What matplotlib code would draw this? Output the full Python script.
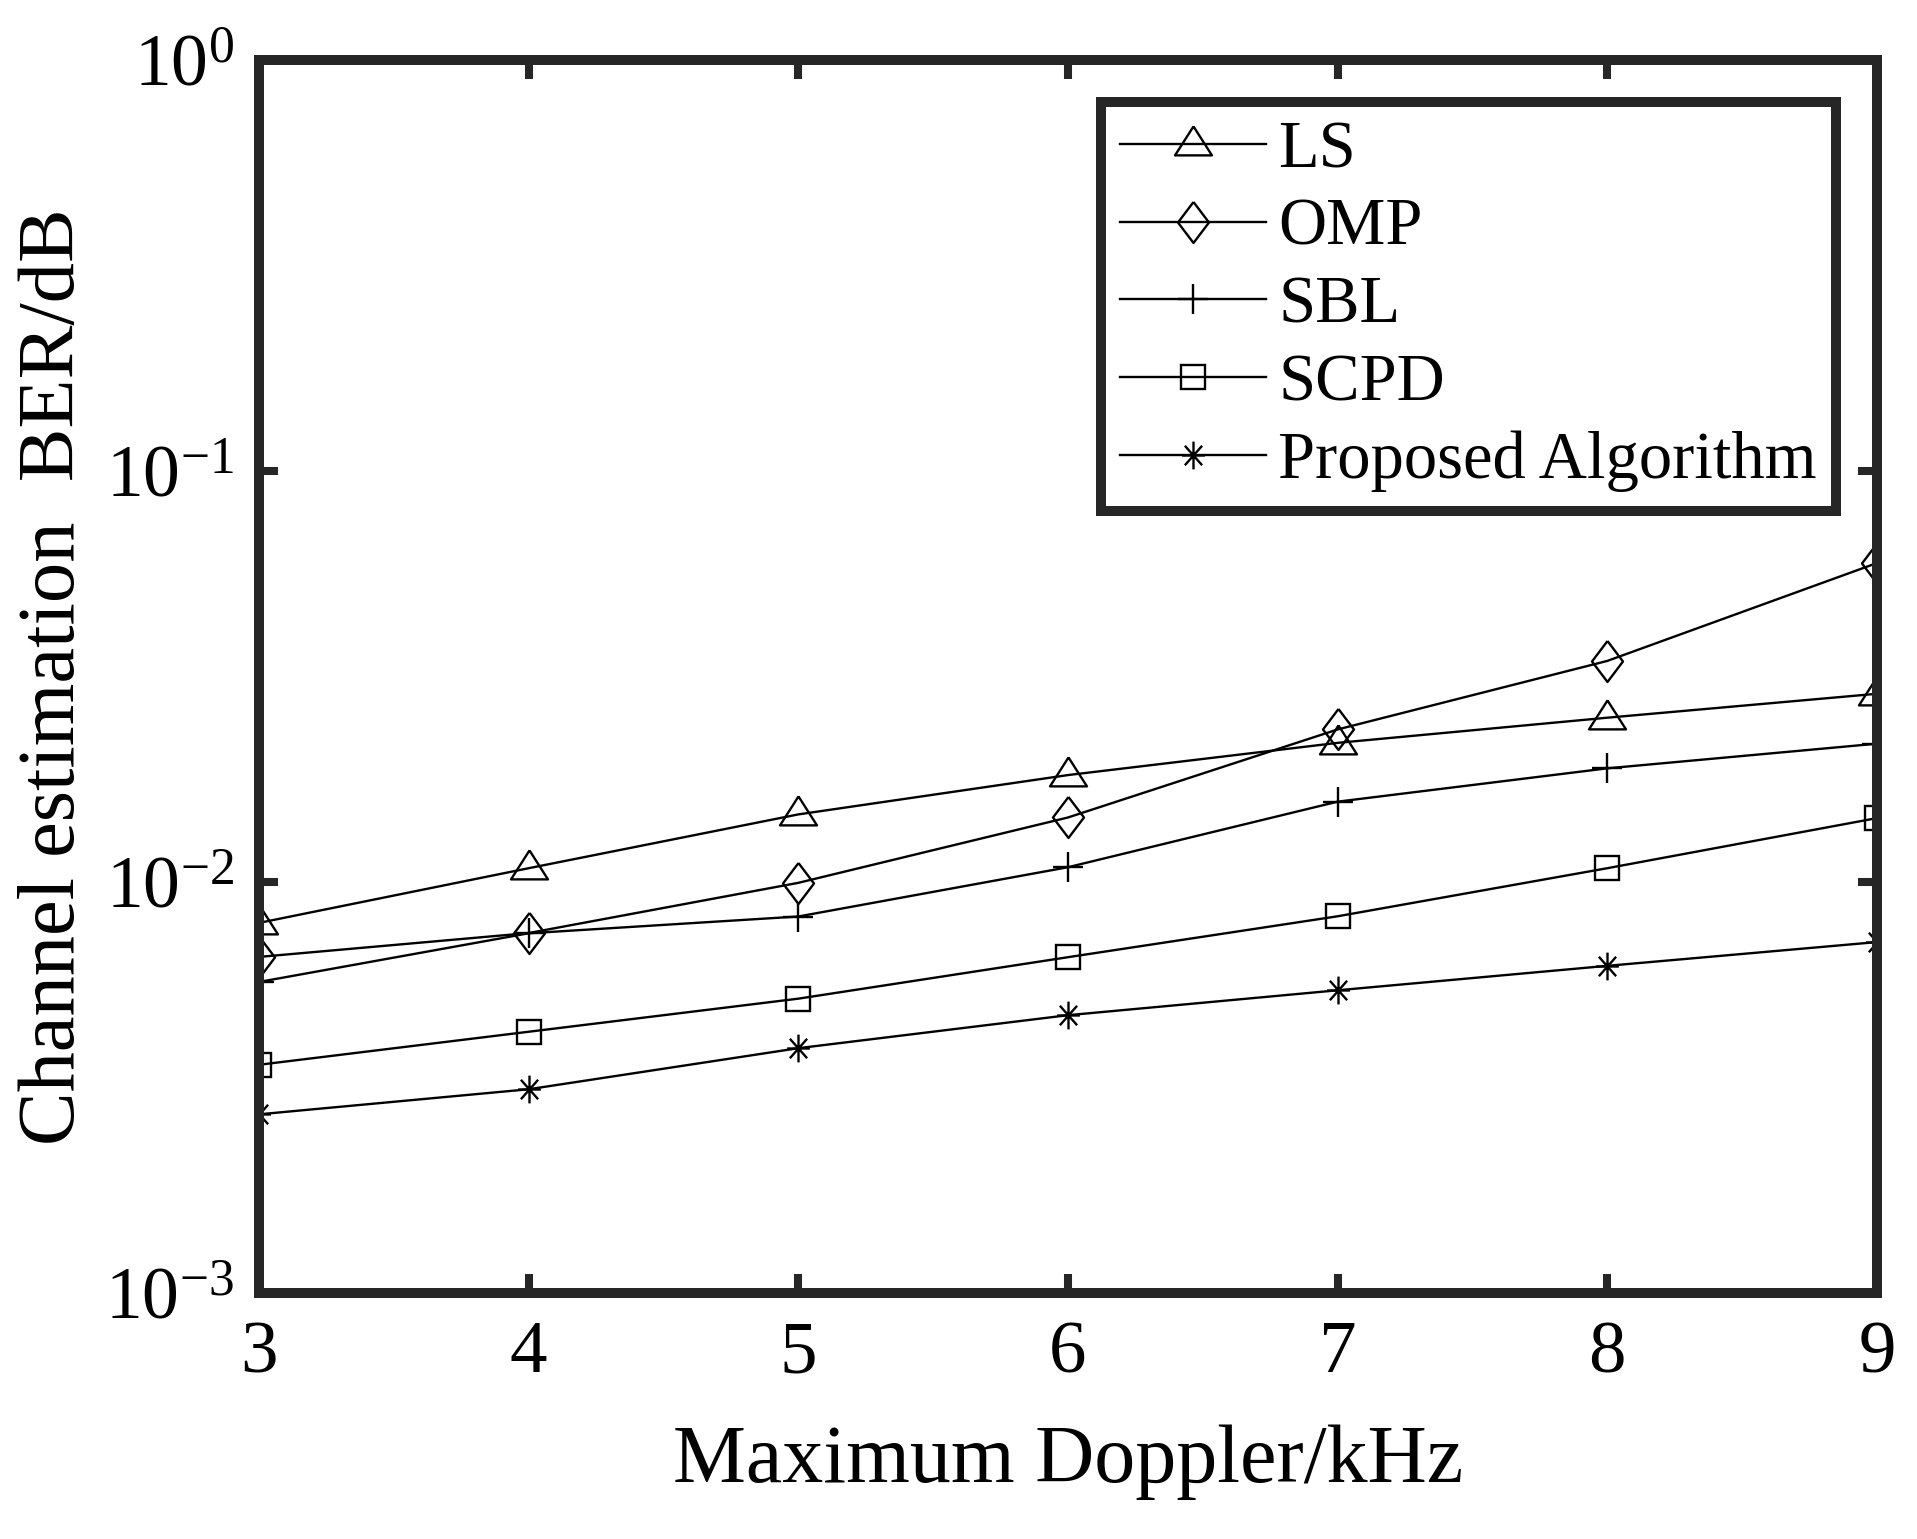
import numpy as np
import matplotlib
matplotlib.use('Agg')
import matplotlib.pyplot as plt
from matplotlib.path import Path
from matplotlib.ticker import LogLocator, NullLocator, FixedLocator

plt.rcParams['font.family'] = 'Liberation Serif'
plt.rcParams['mathtext.fontset'] = 'custom'
plt.rcParams['mathtext.rm'] = 'Liberation Serif'
plt.rcParams['mathtext.default'] = 'regular'

# data
doppler = [3, 4, 5, 6, 7, 8, 9]
ber_ls = [0.00795, 0.0108, 0.0146, 0.0182, 0.0218, 0.0251, 0.0287]
ber_omp = [0.00657, 0.00751, 0.00995, 0.01435, 0.0235, 0.0345, 0.0597]
ber_sbl = [0.00571, 0.0075, 0.00824, 0.01086, 0.01568, 0.0189, 0.0217]
ber_scpd = [0.00359, 0.00432, 0.0052, 0.00656, 0.00825, 0.0108, 0.0143]
ber_prop = [0.00272, 0.00313, 0.00394, 0.00474, 0.00545, 0.00625, 0.00714]
labels = ['LS', 'OMP', 'SBL', 'SCPD', 'Proposed Algorithm']

# MATLAB-like marker shapes
tri = [(0, 18.1), (-18.5, -10.9), (18.5, -10.9), (0, 18.1)]
dia = [(0, 1), (0.756, 0), (0, -1), (-0.756, 0), (0, 1)]
star = Path([(0, -1), (0, 1), (-0.82, 0), (0.82, 0),
             (-0.62, -0.7), (0.62, 0.7), (-0.62, 0.7), (0.62, -0.7)],
            [Path.MOVETO, Path.LINETO] * 4)

fig = plt.figure(figsize=(19.17, 15.39), dpi=100)
ax = fig.add_axes([0.1351, 0.1599, 0.844, 0.8011])

kw = dict(color='k', lw=1.7, mfc='none', mec='k', mew=1.7)
ax.semilogy(doppler, ber_ls, marker=tri, ms=26.6, label=labels[0], **kw)
ax.semilogy(doppler, ber_omp, marker=dia, ms=29.5, label=labels[1], **kw)
ax.semilogy(doppler, ber_sbl, marker='+', ms=21.6, label=labels[2], **kw)
ax.semilogy(doppler, ber_scpd, marker='s', ms=16.6, label=labels[3], **kw)
ax.semilogy(doppler, ber_prop, marker=star, ms=20, label=labels[4], **kw)

ax.set_xlim(3, 9)
ax.set_ylim(1e-3, 1)
ax.xaxis.set_major_locator(FixedLocator(doppler))
ax.yaxis.set_major_locator(LogLocator(base=10, numticks=10))
ax.yaxis.set_minor_locator(NullLocator())

for s in ax.spines.values():
    s.set_linewidth(7.2)
    s.set_color('#262626')
ax.tick_params(which='major', direction='in', length=14, width=5.8,
               color='#262626', top=True, right=True)
ax.tick_params(axis='x', pad=20, labelsize=54)
ax.tick_params(axis='y', pad=18, labelsize=53)

ax.set_xlabel('Maximum Doppler/kHz', fontsize=59, labelpad=26)
ax.set_ylabel('Channel estimation  BER/dB', fontsize=58, labelpad=10)

leg = ax.legend(loc='upper right', bbox_to_anchor=(0.9575, 0.934),
                bbox_transform=fig.transFigure, borderaxespad=0,
                fontsize=48, handlelength=2.2, handletextpad=0.18,
                labelspacing=0.25, borderpad=0.28, fancybox=False,
                framealpha=1)
leg.get_frame().set_linewidth(7.2)
leg.get_frame().set_edgecolor('#262626')

fig.savefig('out.png', dpi=100)
